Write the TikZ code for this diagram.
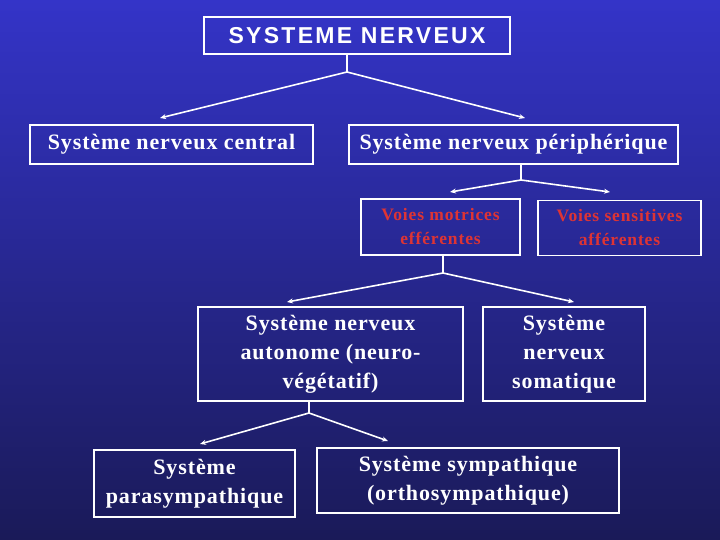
\documentclass[tikz,border=0pt]{standalone}
\usepackage{fontspec}
\setmainfont{Liberation Serif}
\setsansfont{Liberation Sans}
\usetikzlibrary{arrows.meta}
\definecolor{fond-haut}{RGB}{52,52,200}
\definecolor{fond-bas}{RGB}{26,26,88}
\definecolor{voies}{RGB}{222,52,52}

\begin{document}
\begin{tikzpicture}[x=1pt, y=-1pt,
    boite/.style={draw=white, line width=1.5pt, text=white, align=center, inner sep=0pt,
      font=\bfseries\addfontfeatures{LetterSpace=4}\fontsize{22}{29}\selectfont},
    petite/.style={boite, text=voies, font=\bfseries\addfontfeatures{LetterSpace=5}\fontsize{17.5}{24}\selectfont},
    titre/.style={boite, font=\sffamily\bfseries\addfontfeatures{LetterSpace=10}\fontsize{23}{24}\selectfont},
    fil/.style={white, line width=1.6pt},
    fleche/.style={fil, -{Stealth[length=6pt, width=5pt]}}]

    % fond
    \shade[top color=fond-haut, bottom color=fond-bas] (0,0) rectangle (720,540);

    % boites
    \node[titre, minimum width=306pt, minimum height=37pt] (sn) at (357,35.5) {SYSTEME NERVEUX};
    \node[boite, minimum width=283pt, minimum height=39pt] (snc) at (171.5,144.5) {Système nerveux central};
    \node[boite, minimum width=329pt, minimum height=39pt] (snp) at (513.5,144.5) {Système nerveux périphérique};
    \node[petite, minimum width=159pt, minimum height=56pt] (motrices) at (440.5,227) {Voies motrices\\efférentes};
    \node[petite, minimum width=163pt, minimum height=55pt] (sensitives) at (619.5,228) {Voies sensitives\\afférentes};
    \node[boite, minimum width=265pt, minimum height=94pt] (autonome) at (330.5,354) {Système nerveux\\autonome (neuro-\\végétatif)};
    \node[boite, minimum width=162pt, minimum height=94pt] (somatique) at (564,354) {Système\\nerveux\\somatique};
    \node[boite, minimum width=201pt, minimum height=67pt] (para) at (194.5,483.5) {Système\\parasympathique};
    \node[boite, minimum width=302pt, minimum height=65pt] (sympa) at (468,480.5) {Système sympathique\\(orthosympathique)};

    % embranchements
    \coordinate (j1) at (347,72);
    \coordinate (j2) at (521,180);
    \coordinate (j3) at (443,273);
    \coordinate (j4) at (309,413);
    \coordinate (a1) at (160,118);
    \coordinate (a2) at (525,118);
    \coordinate (a3) at (450,192);
    \coordinate (a4) at (610,192);
    \coordinate (a5) at (287,302);
    \coordinate (a6) at (574,302);
    \coordinate (a7) at (200,444);
    \coordinate (a8) at (388,441);

    \draw[fil] (sn.south -| j1) -- (j1);
    \draw[fleche] (j1) -- (a1);
    \draw[fleche] (j1) -- (a2);
    \draw[fil] (snp.south -| j2) -- (j2);
    \draw[fleche] (j2) -- (a3);
    \draw[fleche] (j2) -- (a4);
    \draw[fil] (motrices.south -| j3) -- (j3);
    \draw[fleche] (j3) -- (a5);
    \draw[fleche] (j3) -- (a6);
    \draw[fil] (autonome.south -| j4) -- (j4);
    \draw[fleche] (j4) -- (a7);
    \draw[fleche] (j4) -- (a8);

\end{tikzpicture}
\end{document}
